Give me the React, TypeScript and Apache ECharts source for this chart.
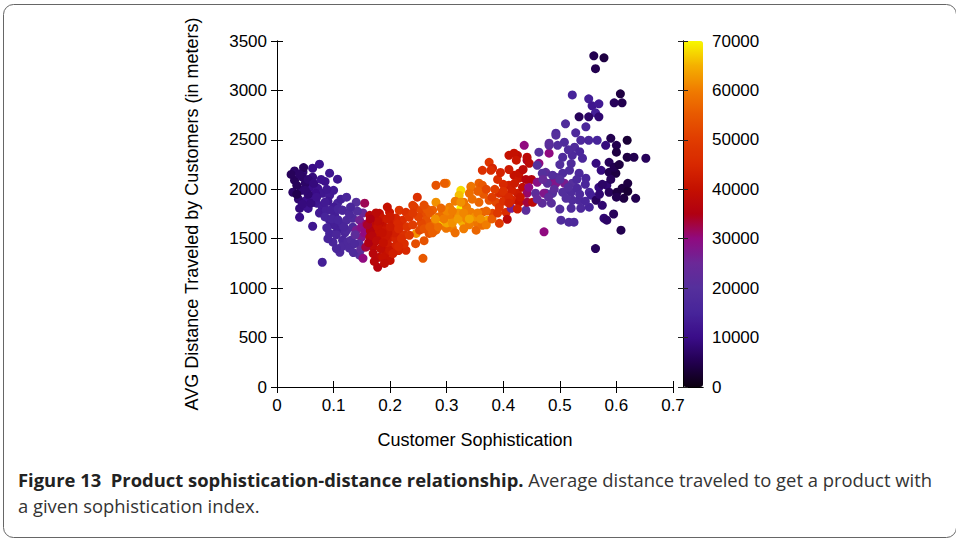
import React, { useEffect, useRef } from "react";
import * as echarts from "echarts";

// [sophistication, avg distance (m), colour value]
const leftIndigo: number[][] = [
  [0.031, 2186, 7000], [0.046, 2176, 8000], [0.063, 2213, 10000], [0.075, 2254, 11000], [0.093, 2163, 12000],
  [0.107, 2102, 12000], [0.031, 2092, 6000], [0.045, 2122, 7000], [0.063, 2122, 9000], [0.028, 1970, 7000],
  [0.043, 1990, 8000], [0.058, 2020, 10000], [0.072, 2010, 11000], [0.081, 1960, 12000], [0.093, 1940, 13000],
  [0.052, 1890, 10000], [0.063, 1920, 11000], [0.040, 1806, 9000], [0.055, 1806, 11000], [0.070, 1859, 12000],
  [0.080, 1819, 13000], [0.040, 1717, 10000], [0.063, 1626, 12000], [0.080, 1262, 14000], [0.093, 1687, 14000],
  [0.107, 1859, 15000], [0.102, 1737, 14000], [0.111, 1656, 15000], [0.093, 1553, 15000], [0.107, 1586, 14000],
  [0.099, 1465, 16000], [0.111, 1363, 17000], [0.116, 1485, 16000], [0.035, 2040, 6000], [0.050, 2060, 7000],
  [0.038, 1900, 8000], [0.025, 2150, 6000], [0.068, 1960, 10000], [0.085, 2080, 11000], [0.090, 1880, 12000],
  [0.100, 1990, 13000], [0.075, 1760, 13000], [0.087, 1790, 14000], [0.100, 1820, 13000], [0.060, 1860, 9000],
  [0.035, 1950, 5000], [0.055, 1950, 8000], [0.047, 2220, 6000], [0.085, 1720, 15000], [0.100, 1640, 14000],
  [0.105, 1540, 16000], [0.088, 1610, 15000], [0.115, 1790, 15000], [0.113, 1900, 14000], [0.120, 1560, 16000],
  [0.040, 2150, 7000], [0.055, 2100, 8000], [0.065, 2060, 9000], [0.078, 2100, 11000], [0.088, 2000, 12000],
  [0.050, 1990, 8000], [0.045, 1850, 9000], [0.070, 1920, 11000], [0.085, 1870, 13000], [0.095, 1790, 14000],
  [0.108, 1800, 15000], [0.097, 1700, 15000], [0.108, 1690, 15000], [0.090, 1500, 15000], [0.115, 1420, 17000],
  [0.125, 1470, 17000], [0.105, 1400, 16000],
];

const purpleMagenta: number[][] = [
  [0.123, 1920, 16000], [0.116, 1788, 16000], [0.140, 1869, 20000], [0.155, 1859, 32000], [0.123, 1687, 17000],
  [0.134, 1707, 18000], [0.146, 1687, 26000], [0.123, 1586, 17000], [0.134, 1616, 18000], [0.140, 1586, 27000],
  [0.149, 1616, 29000], [0.131, 1485, 18000], [0.149, 1515, 28000], [0.128, 1404, 17000], [0.146, 1333, 20000],
  [0.152, 1302, 30000], [0.128, 1750, 17000], [0.138, 1540, 22000], [0.145, 1450, 19000], [0.135, 1360, 18000],
  [0.152, 1760, 25000], [0.142, 1780, 19000], [0.155, 1560, 30000], [0.130, 1820, 16000], [0.158, 1650, 31000],
  [0.118, 1620, 16000], [0.137, 1450, 17000], [0.148, 1390, 22000],
];

const redBand: number[][] = [
  [0.164, 1737, 37000], [0.181, 1757, 39000], [0.199, 1767, 41000], [0.216, 1788, 48000], [0.170, 1616, 38000],
  [0.187, 1636, 40000], [0.204, 1667, 42000], [0.222, 1687, 46000], [0.164, 1515, 37000], [0.181, 1515, 39000],
  [0.199, 1515, 42000], [0.216, 1553, 45000], [0.170, 1414, 38000], [0.187, 1414, 40000], [0.204, 1414, 43000],
  [0.181, 1312, 38000], [0.193, 1353, 40000], [0.178, 1211, 36000], [0.157, 1414, 33000], [0.181, 1667, 39000],
  [0.199, 1383, 41000], [0.187, 1312, 40000], [0.211, 1434, 44000], [0.228, 1383, 45000], [0.228, 1767, 47000],
  [0.170, 1460, 38000], [0.175, 1560, 40000], [0.190, 1580, 41000], [0.195, 1460, 42000], [0.210, 1500, 44000],
  [0.205, 1600, 43000], [0.218, 1620, 45000], [0.165, 1580, 36000], [0.172, 1700, 38000], [0.185, 1710, 41000],
  [0.195, 1700, 42000], [0.210, 1710, 44000], [0.200, 1280, 40000], [0.170, 1350, 37000], [0.225, 1450, 46000],
  [0.225, 1540, 47000], [0.162, 1460, 35000], [0.178, 1620, 40000], [0.192, 1520, 41000], [0.208, 1560, 43000],
  [0.213, 1650, 45000], [0.183, 1400, 39000], [0.215, 1380, 44000], [0.160, 1640, 34000], [0.168, 1530, 37000],
  [0.176, 1480, 38000], [0.188, 1460, 40000], [0.196, 1560, 41000], [0.200, 1620, 42000], [0.186, 1560, 40000],
  [0.178, 1680, 39000], [0.200, 1720, 42000], [0.215, 1600, 45000], [0.220, 1500, 46000], [0.205, 1350, 43000],
  [0.190, 1250, 39000], [0.172, 1270, 37000], [0.215, 1420, 45000], [0.230, 1620, 48000], [0.195, 1820, 40000],
  [0.175, 1760, 38000], [0.165, 1700, 35000],
];

const orangeYellow: number[][] = [
  [0.234, 1717, 48000], [0.243, 1819, 50000], [0.248, 1920, 47000], [0.255, 1788, 52000], [0.281, 2041, 54000],
  [0.299, 2061, 60000], [0.281, 1869, 62000], [0.287, 1667, 67000], [0.246, 1553, 62000], [0.258, 1302, 55000],
  [0.264, 1737, 53000], [0.269, 1656, 55000], [0.269, 1553, 54000], [0.234, 1535, 49000], [0.310, 1606, 60000],
  [0.316, 1717, 58000], [0.240, 1838, 50000], [0.325, 1990, 68000], [0.322, 1940, 66000], [0.343, 2020, 58000],
  [0.357, 2061, 56000], [0.375, 2273, 48000], [0.363, 2192, 47000], [0.381, 2213, 44000], [0.325, 1808, 70000],
  [0.290, 1667, 68000], [0.328, 1667, 65000], [0.372, 1687, 64000], [0.252, 1586, 52000], [0.264, 1687, 54000],
  [0.281, 1586, 57000], [0.299, 1606, 59000], [0.305, 1707, 60000], [0.334, 1707, 61000], [0.352, 1667, 59000],
  [0.352, 1586, 57000], [0.363, 1767, 56000], [0.381, 1757, 52000], [0.363, 1636, 58000], [0.393, 1656, 50000],
  [0.275, 1788, 56000], [0.293, 1767, 58000], [0.305, 1819, 60000], [0.343, 1767, 60000], [0.357, 1869, 57000],
  [0.375, 1889, 54000], [0.387, 1869, 52000], [0.296, 2061, 56000], [0.343, 2030, 59000], [0.363, 2041, 55000],
  [0.378, 2192, 46000], [0.240, 1640, 50000], [0.245, 1450, 53000], [0.260, 1480, 54000], [0.285, 1720, 58000],
  [0.300, 1780, 61000], [0.320, 1760, 62000], [0.335, 1820, 60000], [0.345, 1900, 58000], [0.350, 1720, 62000],
  [0.365, 1950, 55000], [0.330, 1870, 59000], [0.290, 1810, 57000], [0.315, 1880, 60000], [0.278, 1640, 58000],
  [0.300, 1660, 64000], [0.340, 1640, 60000], [0.370, 1780, 57000], [0.255, 1660, 52000], [0.270, 1760, 55000],
  [0.250, 1720, 51000], [0.240, 1760, 49000], [0.260, 1600, 54000], [0.275, 1560, 56000], [0.285, 1620, 58000],
  [0.295, 1700, 60000], [0.310, 1660, 62000], [0.320, 1700, 63000], [0.330, 1760, 61000], [0.340, 1700, 64000],
  [0.355, 1760, 60000], [0.360, 1700, 62000], [0.370, 1640, 60000], [0.380, 1700, 56000], [0.310, 1780, 60000],
  [0.325, 1870, 62000], [0.340, 1960, 58000], [0.355, 1980, 56000], [0.370, 2000, 52000], [0.380, 1920, 50000],
  [0.265, 1800, 55000], [0.280, 1700, 62000], [0.260, 1840, 53000], [0.270, 1620, 56000], [0.315, 1560, 58000],
  [0.330, 1600, 60000],
];

const redRight: number[][] = [
  [0.393, 1960, 46000], [0.405, 1940, 45000], [0.416, 1889, 44000], [0.425, 1960, 42000], [0.419, 2142, 40000],
  [0.428, 2112, 41000], [0.410, 2344, 40000], [0.425, 2344, 39000], [0.442, 2294, 34000], [0.437, 2445, 30000],
  [0.393, 1819, 48000], [0.405, 1767, 46000], [0.407, 1697, 38000], [0.428, 1869, 40000], [0.440, 1788, 22000],
  [0.442, 1869, 33000], [0.414, 1808, 26000], [0.419, 2365, 40000], [0.423, 2294, 41000], [0.442, 2324, 38000],
  [0.446, 2263, 38000], [0.428, 2162, 40000], [0.434, 2020, 39000], [0.410, 2041, 43000], [0.442, 1960, 31000],
  [0.452, 1869, 38000], [0.400, 2050, 45000], [0.390, 2100, 46000], [0.400, 1880, 47000], [0.415, 1990, 43000],
  [0.430, 1920, 41000], [0.385, 2000, 50000], [0.395, 2170, 44000], [0.410, 2200, 42000], [0.450, 2100, 36000],
  [0.445, 2020, 30000], [0.390, 1760, 49000], [0.400, 1980, 47000], [0.410, 1920, 45000], [0.420, 2060, 42000],
  [0.435, 2200, 38000], [0.440, 2100, 36000], [0.425, 1800, 42000], [0.410, 1860, 44000],
];

const purpleRight: number[][] = [
  [0.463, 2375, 20000], [0.481, 2466, 22000], [0.493, 2567, 18000], [0.481, 2365, 30000], [0.463, 2263, 30000],
  [0.475, 2172, 22000], [0.493, 2122, 20000], [0.487, 2071, 30000], [0.457, 1960, 22000], [0.475, 1960, 20000],
  [0.460, 2071, 29000], [0.469, 1859, 22000], [0.472, 1570, 30000], [0.522, 2955, 15000], [0.551, 2915, 14000],
  [0.557, 2844, 12000], [0.569, 2864, 13000], [0.563, 2773, 14000], [0.510, 2662, 18000], [0.528, 2571, 17000],
  [0.546, 2632, 16000], [0.493, 2547, 20000], [0.508, 2476, 18000], [0.526, 2425, 18000], [0.537, 2496, 17000],
  [0.551, 2496, 16000], [0.566, 2496, 15000], [0.460, 2243, 20000], [0.469, 2162, 20000], [0.487, 2142, 19000],
  [0.505, 2162, 18000], [0.517, 2192, 18000], [0.534, 2162, 17000], [0.546, 2112, 16000], [0.493, 2061, 28000],
  [0.508, 2061, 27000], [0.522, 2061, 20000], [0.478, 2061, 21000], [0.472, 1960, 28000], [0.487, 1960, 20000],
  [0.505, 1970, 19000], [0.520, 1970, 18000], [0.531, 2010, 17000], [0.552, 1970, 16000], [0.555, 1940, 14000],
  [0.534, 1889, 17000], [0.522, 1889, 18000], [0.511, 1909, 19000], [0.485, 1859, 21000], [0.520, 1808, 18000],
  [0.537, 1808, 17000], [0.552, 1819, 15000], [0.502, 1687, 18000], [0.516, 1667, 18000], [0.525, 1667, 17000],
  [0.505, 2324, 18000], [0.522, 2344, 17000], [0.540, 2314, 16000], [0.496, 2445, 19000], [0.481, 2445, 21000],
  [0.470, 2100, 24000], [0.490, 2000, 22000], [0.500, 2100, 20000], [0.515, 2020, 19000], [0.530, 2100, 17000],
  [0.545, 2050, 16000], [0.500, 1800, 19000], [0.480, 1920, 22000], [0.460, 1900, 24000], [0.535, 1950, 17000],
  [0.545, 1880, 16000], [0.500, 2250, 19000], [0.520, 2260, 18000], [0.515, 2400, 18000], [0.535, 2380, 16000],
];

const darkRight: number[][] = [
  [0.560, 3350, 5000], [0.578, 3330, 4000], [0.563, 3220, 5000], [0.607, 2966, 4000], [0.610, 2875, 5000],
  [0.596, 2875, 6000], [0.534, 2733, 6000], [0.551, 2733, 7000], [0.569, 2733, 8000], [0.590, 2516, 5000],
  [0.619, 2496, 3000], [0.600, 2445, 5000], [0.581, 2445, 9000], [0.600, 2375, 4000], [0.564, 2263, 9000],
  [0.587, 2273, 6000], [0.619, 2324, 4000], [0.631, 2324, 5000], [0.652, 2314, 6000], [0.573, 2192, 9000],
  [0.587, 2172, 5000], [0.599, 2162, 4000], [0.596, 2223, 5000], [0.569, 2020, 9000], [0.583, 2041, 8000],
  [0.587, 1970, 6000], [0.601, 1970, 4000], [0.610, 2010, 4000], [0.613, 1909, 4000], [0.634, 1909, 5000],
  [0.564, 1889, 6000], [0.575, 1838, 8000], [0.578, 1707, 8000], [0.583, 1687, 7000], [0.608, 1586, 5000],
  [0.563, 1400, 6000], [0.575, 2050, 7000], [0.590, 2100, 6000], [0.600, 1920, 5000], [0.620, 2060, 4000],
  [0.595, 1750, 6000], [0.570, 1950, 8000], [0.620, 1980, 3000], [0.605, 2250, 4000],
];

const xTicks = [0, 0.7, 0.1];
const yTicks = [0, 3500, 500];
const cbTicks = [0, 70000, 10000];
const paletteStops = [
  "#0c0010", "#22004f", "#3a0c88", "#47249a", "#55309c", "#6a2898", "#900a80",
  "#b00012", "#c41000", "#d82800", "#e03c00", "#e85800", "#f07c00", "#f4b000", "#f8f800",
];

const captionBold = "Figure 13  Product sophistication-distance relationship.";
const captionRest1 = " Average distance traveled to get a product with";
const captionLine2 = "a given sophistication index.";

export default function App() {
  const ref = useRef<HTMLDivElement>(null);
  useEffect(() => {
    if (!ref.current) return;
    const chart = echarts.init(ref.current, null, { renderer: "svg" });
    const points = [
      ...leftIndigo, ...purpleMagenta, ...redBand, ...orangeYellow, ...redRight, ...purpleRight, ...darkRight,
    ];
    const font = "Liberation Sans";
    const plain = (v: number) => String(v);
    const axisCommon = {
      axisLine: { show: true, lineStyle: { color: "#000", width: 1 } },
      axisTick: { show: true, inside: true, length: 6, lineStyle: { color: "#000" } },
      splitLine: { show: false },
    };
    chart.setOption({
      animation: false,
      backgroundColor: "#fff",
      grid: [
        { left: 277, top: 41, width: 396, height: 346 },
        { left: 683, top: 41, width: 20, height: 346 },
      ],
      xAxis: [
        {
          gridIndex: 0, type: "value", min: xTicks[0], max: xTicks[1], interval: xTicks[2], position: "bottom",
          ...axisCommon,
          axisLabel: { color: "#000", fontSize: 17, fontFamily: font, margin: 10, formatter: plain },
          name: "Customer Sophistication", nameLocation: "middle", nameGap: 44,
          nameTextStyle: { color: "#000", fontSize: 18, fontFamily: font },
        },
        {
          gridIndex: 0, type: "value", min: xTicks[0], max: xTicks[1], interval: xTicks[2], position: "top",
          ...axisCommon, axisLabel: { show: false },
        },
        {
          gridIndex: 1, type: "value", min: 0, max: 1, position: "bottom", z: 10,
          axisLine: { show: true, lineStyle: { color: "#000" } }, axisTick: { show: false }, axisLabel: { show: false }, splitLine: { show: false },
        },
        {
          gridIndex: 1, type: "value", min: 0, max: 1, position: "top", z: 10,
          axisLine: { show: true, lineStyle: { color: "#000" } }, axisTick: { show: false }, axisLabel: { show: false }, splitLine: { show: false },
        },
      ],
      yAxis: [
        {
          gridIndex: 0, type: "value", min: yTicks[0], max: yTicks[1], interval: yTicks[2], position: "left",
          ...axisCommon,
          axisLabel: { color: "#000", fontSize: 17, fontFamily: font, margin: 10, formatter: plain },
          name: "AVG Distance Traveled by Customers (in meters)", nameLocation: "middle", nameGap: 76,
          nameTextStyle: { color: "#000", fontSize: 18, fontFamily: font },
        },
        {
          gridIndex: 0, type: "value", min: yTicks[0], max: yTicks[1], interval: yTicks[2], position: "right",
          ...axisCommon, axisLabel: { show: false },
        },
        {
          gridIndex: 1, type: "value", min: cbTicks[0], max: cbTicks[1], interval: cbTicks[2], position: "right", z: 10,
          axisLine: { show: true, lineStyle: { color: "#000" } },
          axisTick: { show: true, inside: true, length: 5, lineStyle: { color: "#222" } },
          axisLabel: { color: "#000", fontSize: 17, fontFamily: font, margin: 9, formatter: plain },
          splitLine: { show: false },
        },
        {
          gridIndex: 1, type: "value", min: cbTicks[0], max: cbTicks[1], interval: cbTicks[2], position: "left", z: 10,
          axisLine: { show: true, lineStyle: { color: "#000" } },
          axisTick: { show: true, inside: true, length: 5, lineStyle: { color: "#222" } },
          axisLabel: { show: false }, splitLine: { show: false },
        },
      ],
      visualMap: {
        type: "continuous", show: true, dimension: 2, seriesIndex: 0,
        min: cbTicks[0], max: cbTicks[1], calculable: false, realtime: false,
        left: 683, top: 41, itemWidth: 20, itemHeight: 346, padding: 0,
        inRange: { color: paletteStops },
        text: null, showLabel: false, hoverLink: false,
      },
      series: [
        {
          type: "scatter", xAxisIndex: 0, yAxisIndex: 0, data: points,
          symbolSize: 9, itemStyle: { opacity: 1 }, z: 2,
        },
      ],
      graphic: [
        {
          type: "rect", left: 1, top: 2, shape: { width: 953, height: 533, r: 10 },
          style: { fill: "none", stroke: "#666", lineWidth: 1 }, silent: true,
        },
        {
          type: "text", left: 18, top: 470,
          style: {
            text: `{b|${captionBold}}{n|${captionRest1}}`,
            rich: {
              b: { fontFamily: "Open Sans", fontWeight: "bold", fontSize: 18.4, fill: "#222" },
              n: { fontFamily: "Open Sans", fontSize: 18.4, fill: "#333" },
            },
          },
        },
        {
          type: "text", left: 18, top: 496,
          style: { text: captionLine2, fontFamily: "Open Sans", fontSize: 18.4, fill: "#333" },
        },
      ],
    });
    return () => chart.dispose();
  }, []);
  return <div ref={ref} style={{ position: "absolute", left: 0, top: 0, width: 956, height: 539 }} />;
}
